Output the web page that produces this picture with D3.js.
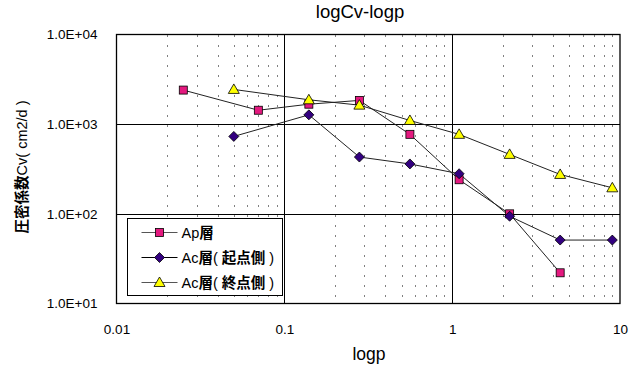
<!DOCTYPE html>
<html>
<head>
<meta charset="utf-8">
<script src="https://cdn.jsdelivr.net/npm/d3@7"></script>
<style>
  body { margin: 0; background: #fff; }
  svg { display: block; }
</style>
</head>
<body>
<script>
const width = 639;
const height = 371;

// data
const apX = [0.025, 0.07, 0.14, 0.28, 0.56, 1.1, 2.2, 4.4];
const apY = [2400, 1430, 1670, 1840, 770, 240, 100, 22];
const acStartX = [0.05, 0.14, 0.28, 0.56, 1.1, 2.2, 4.4, 9];
const acStartY = [730, 1270, 430, 360, 280, 94, 51, 51];
const acEndX = [0.05, 0.14, 0.28, 0.56, 1.1, 2.2, 4.4, 9];
const acEndY = [2440, 1870, 1630, 1100, 770, 460, 275, 195];

const xTicks = [0.01, 0.1, 1, 10];
const xTickLabels = ['0.01', '0.1', '1', '10'];
const yTicks = [10, 100, 1000, 10000];
const yTickLabels = ['1.0E+01', '1.0E+02', '1.0E+03', '1.0E+04'];

const series = [
    { name: 'Ap層', xs: apX, ys: apY, shape: 'square', fill: '#e4197f' },
    { name: 'Ac層( 起点側 )', xs: acStartX, ys: acStartY, shape: 'diamond', fill: '#330080' },
    { name: 'Ac層( 終点側 )', xs: acEndX, ys: acEndY, shape: 'triangle', fill: '#ffff00' }
];

const latin = '"Liberation Sans", Arial, sans-serif';
const cjk = '"Noto Sans CJK JP", "Noto Sans CJK SC", sans-serif';

const margin = { top: 34.5, right: 19, bottom: 67.5, left: 116.5 };

const svg = d3.select('body').append('svg')
    .attr('width', width)
    .attr('height', height)
    .style('background-color', 'white');

const x = d3.scaleLog()
    .domain([0.01, 10])
    .range([margin.left, width - margin.right]);

const y = d3.scaleLog()
    .domain([10, 10000])
    .range([height - margin.bottom, margin.top]);

// split a label into latin / cjk runs, cjk drawn bold
function richText(sel, str) {
    const parts = str.match(/[\u3000-\u9fff]+|[^\u3000-\u9fff]+/g);
    parts.forEach(p => {
        const isCjk = /[\u3000-\u9fff]/.test(p);
        sel.append('tspan')
            .attr('font-family', isCjk ? cjk : latin)
            .attr('font-weight', isCjk ? 'bold' : 'normal')
            .attr('xml:space', 'preserve')
            .text(p);
    });
}

// minor dotted gridlines (vertical only)
const minors = [];
for (let d = 0.01; d < 10; d *= 10) {
    for (let k = 2; k <= 9; k++) minors.push(d * k);
}
svg.append('g')
    .selectAll('line')
    .data(minors)
    .join('line')
    .attr('x1', d => Math.round(x(d)) + 0.5)
    .attr('x2', d => Math.round(x(d)) + 0.5)
    .attr('y1', margin.top)
    .attr('y2', height - margin.bottom)
    .attr('stroke', '#000')
    .attr('stroke-width', 1)
    .attr('stroke-dasharray', '1,9')
    .attr('stroke-dashoffset', -11);

// major gridlines
svg.append('g')
    .selectAll('line')
    .data([0.1, 1])
    .join('line')
    .attr('x1', d => Math.round(x(d)) + 0.5)
    .attr('x2', d => Math.round(x(d)) + 0.5)
    .attr('y1', margin.top)
    .attr('y2', height - margin.bottom)
    .attr('stroke', '#000');

svg.append('g')
    .selectAll('line')
    .data([100, 1000])
    .join('line')
    .attr('x1', margin.left)
    .attr('x2', width - margin.right)
    .attr('y1', d => Math.round(y(d)) + 0.5)
    .attr('y2', d => Math.round(y(d)) + 0.5)
    .attr('stroke', '#000');

// plot border
svg.append('rect')
    .attr('x', margin.left)
    .attr('y', margin.top)
    .attr('width', width - margin.right - margin.left)
    .attr('height', height - margin.bottom - margin.top)
    .attr('fill', 'none')
    .attr('stroke', '#000')
    .attr('stroke-width', 1.3);

// axes labels
const xAxis = d3.axisBottom(x)
    .tickValues(xTicks)
    .tickFormat((d, i) => xTickLabels[i])
    .tickSize(0)
    .tickPadding(21);

svg.append('g')
    .attr('transform', `translate(0,${height - margin.bottom})`)
    .call(xAxis)
    .call(g => g.select('.domain').remove())
    .call(g => g.selectAll('text')
        .attr('font-family', latin)
        .attr('font-size', 13.5)
        .attr('fill', '#000'));

const yAxis = d3.axisLeft(y)
    .tickValues(yTicks)
    .tickFormat((d, i) => yTickLabels[i])
    .tickSize(0)
    .tickPadding(19);

svg.append('g')
    .attr('transform', `translate(${margin.left},0)`)
    .call(yAxis)
    .call(g => g.select('.domain').remove())
    .call(g => g.selectAll('text')
        .attr('font-family', latin)
        .attr('font-size', 13.5)
        .attr('fill', '#000'));

// markers
function marker(g, shape, fill) {
    if (shape === 'square') {
        g.append('rect')
            .attr('x', -4).attr('y', -4)
            .attr('width', 8).attr('height', 8)
            .attr('fill', fill).attr('stroke', '#000').attr('stroke-width', 0.8);
    } else if (shape === 'diamond') {
        g.append('path')
            .attr('d', 'M0,-5L5,0L0,5L-5,0Z')
            .attr('fill', fill).attr('stroke', '#000').attr('stroke-width', 0.8);
    } else {
        g.append('path')
            .attr('d', 'M0,-5.5L5.5,4L-5.5,4Z')
            .attr('fill', fill).attr('stroke', '#000').attr('stroke-width', 0.8);
    }
}

const line = d3.line()
    .x(d => x(d[0]))
    .y(d => y(d[1]));

series.forEach(s => {
    const pts = s.xs.map((v, i) => [v, s.ys[i]]);
    svg.append('path')
        .datum(pts)
        .attr('fill', 'none')
        .attr('stroke', '#222')
        .attr('stroke-width', 1)
        .attr('d', line);
});

series.forEach(s => {
    const pts = s.xs.map((v, i) => [v, s.ys[i]]);
    svg.append('g')
        .selectAll('g')
        .data(pts)
        .join('g')
        .attr('transform', d => `translate(${x(d[0])},${y(d[1])})`)
        .each(function () { marker(d3.select(this), s.shape, s.fill); });
});

// legend
const legend = svg.append('g').attr('transform', 'translate(127.5,218.5)');
legend.append('rect')
    .attr('width', 155)
    .attr('height', 77)
    .attr('fill', '#fff')
    .attr('stroke', '#000')
    .attr('stroke-width', 1);

series.forEach((s, i) => {
    const cy = 14 + i * 25;
    const row = legend.append('g').attr('transform', `translate(0,${cy})`);
    row.append('line')
        .attr('x1', 14).attr('x2', 50)
        .attr('y1', 0).attr('y2', 0)
        .attr('stroke', i === 1 ? '#000' : '#555');
    marker(row.append('g').attr('transform', 'translate(32,0)'), s.shape, s.fill);
    const t = row.append('text')
        .attr('x', 54)
        .attr('y', 5)
        .attr('font-size', 14.5)
        .attr('fill', '#000');
    richText(t, s.name);
});

// title
svg.append('text')
    .attr('x', 360)
    .attr('y', 18)
    .attr('text-anchor', 'middle')
    .attr('font-family', latin)
    .attr('font-size', 18.5)
    .text('logCv-logp');

// axis titles
svg.append('text')
    .attr('x', 369)
    .attr('y', 360)
    .attr('text-anchor', 'middle')
    .attr('font-family', latin)
    .attr('font-size', 17.5)
    .text('logp');

const yTitle = svg.append('text')
    .attr('transform', 'translate(27,167) rotate(-90)')
    .attr('text-anchor', 'middle')
    .attr('font-size', 14.5)
    .attr('fill', '#000');
richText(yTitle, '圧密係数Cv( cm2/d )');
</script>
</body>
</html>
